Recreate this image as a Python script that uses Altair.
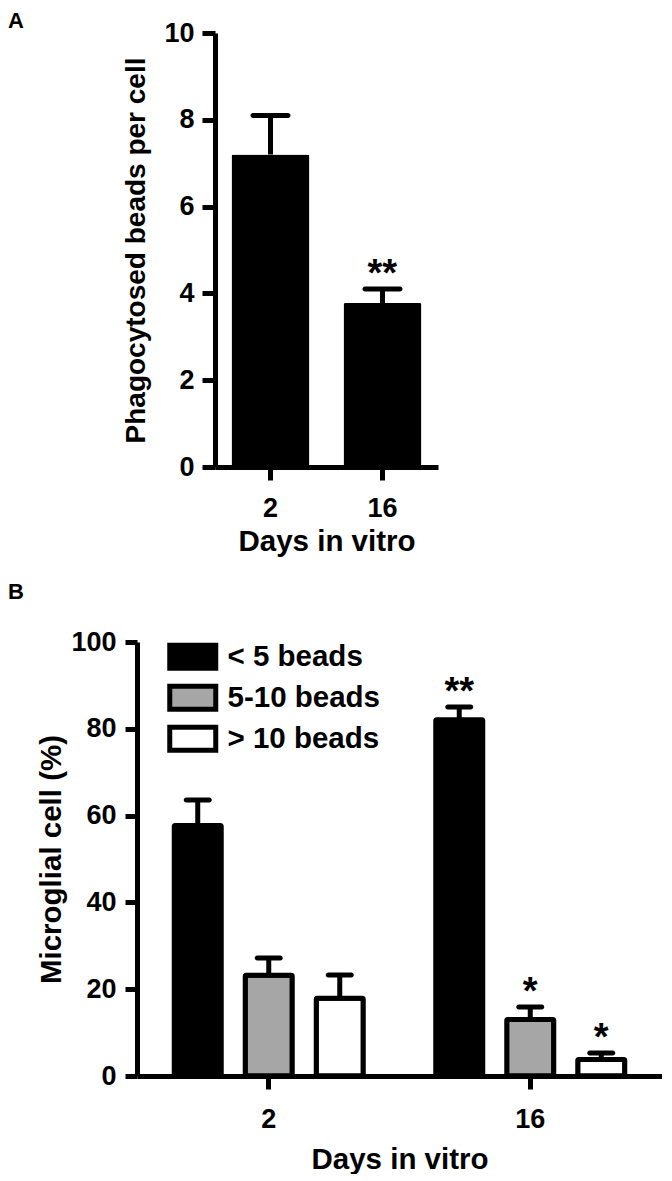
import altair as alt
import pandas as pd

FONT = "Liberation Sans"

# ---------- Panel A data ----------
days_a = ["2", "16"]
beads_per_cell = [7.2, 3.78]
beads_err = [0.9, 0.32]
stars_a = ["", "**"]

# ---------- Panel B data ----------
days_b = ["2", "16"]
groups = ["< 5 beads", "5-10 beads", "> 10 beads"]
pct_day2 = [57.7, 23.2, 17.9]
err_day2 = [5.9, 4.0, 5.4]
pct_day16 = [82.1, 13.0, 3.8]
err_day16 = [2.9, 2.9, 1.5]
stars_day2 = ["", "", ""]
stars_day16 = ["**", "*", "*"]
group_colors = ["#000000", "#a6a6a6", "#ffffff"]

dfA = pd.DataFrame({
    "day": days_a,
    "value": beads_per_cell,
    "upper": [v + e for v, e in zip(beads_per_cell, beads_err)],
    "star": stars_a,
})

rows = []
for day, vals, errs, stars in [("2", pct_day2, err_day2, stars_day2),
                               ("16", pct_day16, err_day16, stars_day16)]:
    for g, v, e, s in zip(groups, vals, errs, stars):
        rows.append({"day": day, "group": g, "value": v, "upper": v + e, "star": s})
dfB = pd.DataFrame(rows)

# ---------- layout (pixels inside the single plot area) ----------
W, H = 525, 1043
A_X0, A_X1 = 78, 301     # panel A horizontal extent
A_H = 434                # panel A height (top of plot area to its x axis)
B_TOP = 609              # panel B top

# ---------- Panel A ----------
xA_scale = alt.Scale(domain=days_a, range=[A_X0, A_X1], paddingInner=0.304, paddingOuter=0.1475)
yA_scale = alt.Scale(domain=[0, 10], range=[A_H, 0], nice=False)

xA = alt.X("day:N", sort=days_a, scale=xA_scale,
           axis=alt.Axis(title="Days in vitro", orient="bottom", offset=-(H - A_H),
                         labelAngle=0, labelPadding=15, titlePadding=6, tickSize=13,
                         titleFontSize=29.5))
yA = alt.Y("value:Q", scale=yA_scale,
           axis=alt.Axis(values=[0, 2, 4, 6, 8, 10], title="Phagocytosed beads per cell",
                         orient="left", offset=-A_X0,
                         titleFontSize=28, titlePadding=13, labelPadding=8, tickSize=13))


def xA_plain():
    return alt.X("day:N", sort=days_a, scale=xA_scale, axis=None)


def yA_plain(f):
    return alt.Y(f, scale=yA_scale, axis=None)


baseA = alt.Chart(dfA)
stemA = baseA.mark_rule(strokeWidth=5, color="black", opacity=1).encode(
    x=xA_plain(), y=yA_plain("value:Q"), y2="upper:Q")
barsA = baseA.mark_bar(color="black", opacity=1, cornerRadius=2).encode(x=xA, y=yA)
capA = baseA.mark_tick(color="black", opacity=1, thickness=5, size=40,
                       cornerRadius=2.5).encode(x=xA_plain(), y=yA_plain("upper:Q"))
starA = baseA.mark_text(font=FONT, fontSize=38, fontWeight="bold", color="black",
                        baseline="alphabetic", dy=-3).encode(
    x=xA_plain(), y=yA_plain("upper:Q"), text="star:N")

# ---------- Panel B ----------
xB_scale = alt.Scale(domain=days_b, range=[0, W], paddingInner=0.2772, paddingOuter=0.1424)
yB_scale = alt.Scale(domain=[0, 100], range=[H, B_TOP], nice=False)


def xoff():
    return alt.XOffset("group:N", sort=groups,
                       scale=alt.Scale(domain=groups, paddingInner=0.338, paddingOuter=0))


xB = alt.X("day:N", sort=days_b, scale=xB_scale,
           axis=alt.Axis(title="Days in vitro", orient="bottom", labelAngle=0,
                         labelPadding=17, titlePadding=13, tickSize=13, titleFontSize=29.5))
yB = alt.Y("value:Q", scale=yB_scale,
           axis=alt.Axis(values=[0, 20, 40, 60, 80, 100], title="Microglial cell (%)",
                         orient="left", titleFontSize=29.5, titlePadding=4,
                         labelPadding=9, tickSize=12))


def xB_plain():
    return alt.X("day:N", sort=days_b, scale=xB_scale, axis=None)


def yB_plain(f):
    return alt.Y(f, scale=yB_scale, axis=None)


colorB = alt.Color("group:N", sort=groups,
                   scale=alt.Scale(domain=groups, range=group_colors),
                   legend=alt.Legend(title=None, orient="none", legendX=41, legendY=609,
                                     symbolType="M-2,-1H2V1H-2Z", symbolSize=529,
                                     symbolStrokeWidth=5, symbolStrokeColor="black",
                                     symbolOpacity=1,
                                     labelFont=FONT, labelFontWeight="bold",
                                     labelFontSize=29.5, labelColor="black",
                                     labelOffset=20, rowPadding=-3, padding=0))

baseB = alt.Chart(dfB)
stemB = baseB.mark_rule(strokeWidth=5, color="black", opacity=1).encode(
    x=xB_plain(), xOffset=xoff(), y=yB_plain("value:Q"), y2="upper:Q")
barsB = baseB.mark_bar(stroke="black", strokeWidth=5, opacity=1, cornerRadius=1).encode(
    x=xB, xOffset=xoff(), y=yB, color=colorB)
capB = baseB.mark_tick(color="black", opacity=1, thickness=5, size=28,
                       cornerRadius=2.5).encode(
    x=xB_plain(), xOffset=xoff(), y=yB_plain("upper:Q"))
starB = baseB.mark_text(font=FONT, fontSize=38, fontWeight="bold", color="black",
                        baseline="alphabetic", dy=-3).encode(
    x=xB_plain(), xOffset=xoff(), y=yB_plain("upper:Q"), text="star:N")

# ---------- panel letters ----------
letterA = alt.Chart(pd.DataFrame({"panel": ["A"]})).mark_text(
    font=FONT, fontSize=22, fontWeight="bold", color="black",
    align="left", baseline="top").encode(
    x=alt.value(-129), y=alt.value(-22), text="panel:N")
letterB = alt.Chart(pd.DataFrame({"panel": ["B"]})).mark_text(
    font=FONT, fontSize=22, fontWeight="bold", color="black",
    align="left", baseline="top").encode(
    x=alt.value(-129), y=alt.value(549), text="panel:N")

chart = alt.layer(
    barsA, stemA, capA, starA,
    barsB, stemB, capB, starB,
    letterA, letterB,
).resolve_scale(
    x="independent", y="independent"
).resolve_axis(
    x="independent", y="independent"
).properties(
    width=W, height=H,
    padding={"left": 0, "top": 2, "right": 0, "bottom": 0},
).configure_view(stroke=None).configure_axis(
    domainColor="black", domainWidth=5, domainCap="butt",
    tickColor="black", tickWidth=5, tickCap="butt",
    labelFont=FONT, labelFontWeight="bold", labelFontSize=27, labelColor="black",
    titleFont=FONT, titleFontWeight="bold", titleColor="black",
    grid=False,
)

chart.save("out.html", embed_options={"renderer": "svg", "actions": False})
